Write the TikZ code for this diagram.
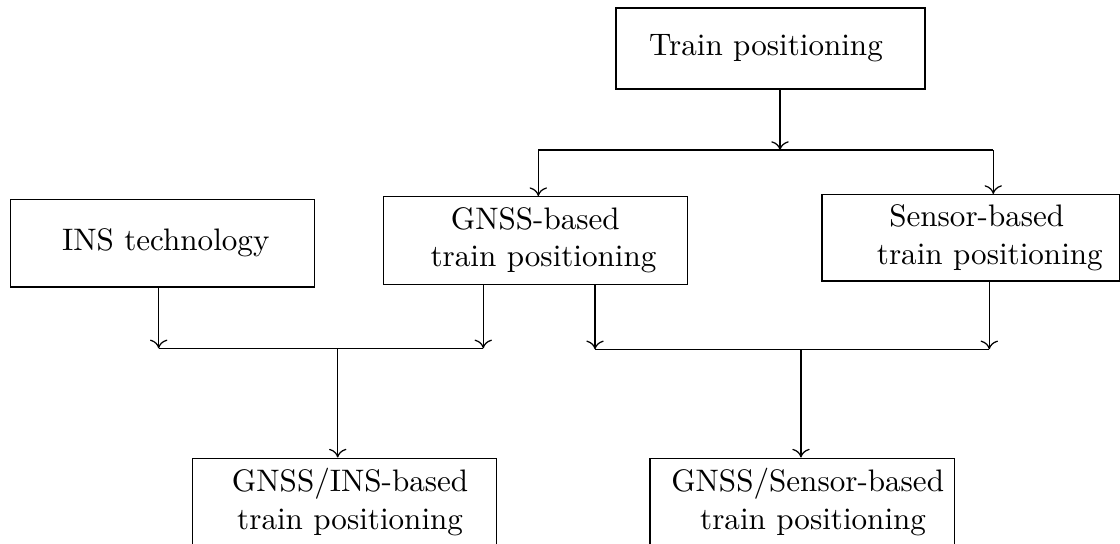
\documentclass[tikz,border=0pt]{standalone}
\usepackage{tikz}
\usetikzlibrary{arrows.meta,
                positioning
            }

\begin{document}
\begin{tikzpicture}[>={To[length=2.8pt, width=5.6pt]},
            box/.style={draw, minimum width=3.435cm, minimum height=0.99cm, align=center}]
            \useasboundingbox (0, 0) rectangle (12.656, -6.136);
            \node[box, minimum width=3.49cm, minimum height=0.915cm] (train) at (8.707, -0.548) {Train positioning\hspace*{2.9pt}};
            \node[box] (ins) at (1.838, -2.748) {\hspace*{2pt}INS technology};
            \node[box] (gnss) at (6.049, -2.718) {GNSS-based\\\hspace*{5.3pt}train positioning};
            \node[box, minimum width=3.36cm, minimum height=0.968cm] (sensor) at (10.969, -2.687) {\hspace*{3.9pt}Sensor-based\\\hspace*{12.3pt}train positioning};
            \node[box] (gnssins) at (3.895, -5.673) {\hspace*{3.5pt}GNSS/INS-based\\\hspace*{3.5pt}train positioning};
            \node[box] (gnsssensor) at (9.065, -5.673) {\hspace*{3.5pt}GNSS/Sensor-based\\\hspace*{7pt}train positioning};
            % junction points
            \coordinate (split) at (8.814, -1.695);
            \coordinate (splitl) at (6.083, -1.695);
            \coordinate (splitr) at (11.224, -1.695);
            \coordinate (joinl1) at (1.793, -3.936);
            \coordinate (joinl2) at (5.461, -3.936);
            \coordinate (joinl) at (3.816, -3.936);
            \coordinate (joinr1) at (6.724, -3.947);
            \coordinate (joinr2) at (11.179, -3.947);
            \coordinate (joinr) at (9.051, -3.947);
            \draw[->] (train.south -| split) -- (split);
            \draw (splitl) -- (splitr);
            \draw[->] (splitl) -- (splitl |- gnss.north);
            \draw[->] (splitr) -- (splitr |- sensor.north);
            \draw[->] (ins.south -| joinl1) -- (joinl1);
            \draw[->] (gnss.south -| joinl2) -- (joinl2);
            \draw (joinl1) -- (joinl2);
            \draw[->] (joinl) -- (joinl |- gnssins.north);
            \draw[->] (gnss.south -| joinr1) -- (joinr1);
            \draw[->] (sensor.south -| joinr2) -- (joinr2);
            \draw (joinr1) -- (joinr2);
            \draw[->] (joinr) -- (joinr |- gnsssensor.north);
        \end{tikzpicture}
\end{document}
